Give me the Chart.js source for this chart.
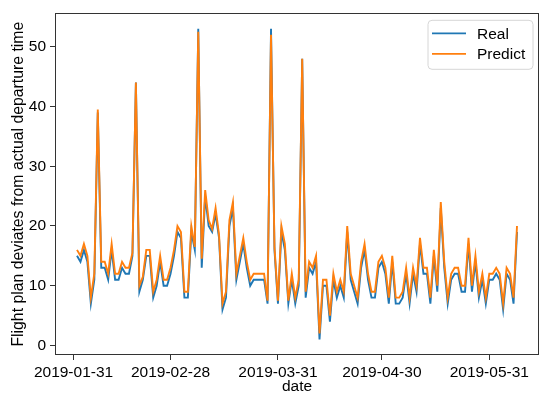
<!DOCTYPE html>
<html><head><meta charset="utf-8">
<script src="https://cdn.jsdelivr.net/npm/chart.js@4/dist/chart.umd.min.js"></script>
<style>html,body{margin:0;padding:0;background:#fff;}#wrap{width:550px;height:399px;position:relative;}canvas{display:block;}</style>
</head><body><div id="wrap"><canvas id="c" width="550" height="399" style="width:550px;height:399px"></canvas></div>
<script>
const dates = [
'2019-02-01','2019-02-02','2019-02-03','2019-02-04','2019-02-05','2019-02-06','2019-02-07','2019-02-08','2019-02-09','2019-02-10',
'2019-02-11','2019-02-12','2019-02-13','2019-02-14','2019-02-15','2019-02-16','2019-02-17','2019-02-18','2019-02-19','2019-02-20',
'2019-02-21','2019-02-22','2019-02-23','2019-02-24','2019-02-25','2019-02-26','2019-02-27','2019-02-28','2019-03-01','2019-03-02',
'2019-03-03','2019-03-04','2019-03-05','2019-03-06','2019-03-07','2019-03-08','2019-03-09','2019-03-10','2019-03-11','2019-03-12',
'2019-03-13','2019-03-14','2019-03-15','2019-03-16','2019-03-17','2019-03-18','2019-03-19','2019-03-20','2019-03-21','2019-03-22',
'2019-03-23','2019-03-24','2019-03-25','2019-03-26','2019-03-27','2019-03-28','2019-03-29','2019-03-30','2019-03-31','2019-04-01',
'2019-04-02','2019-04-03','2019-04-04','2019-04-05','2019-04-06','2019-04-07','2019-04-08','2019-04-09','2019-04-10','2019-04-11',
'2019-04-12','2019-04-13','2019-04-14','2019-04-15','2019-04-16','2019-04-17','2019-04-18','2019-04-19','2019-04-20','2019-04-21',
'2019-04-22','2019-04-23','2019-04-24','2019-04-25','2019-04-26','2019-04-27','2019-04-28','2019-04-29','2019-04-30','2019-05-01',
'2019-05-02','2019-05-03','2019-05-04','2019-05-05','2019-05-06','2019-05-07','2019-05-08','2019-05-09','2019-05-10','2019-05-11',
'2019-05-12','2019-05-13','2019-05-14','2019-05-15','2019-05-16','2019-05-17','2019-05-18','2019-05-19','2019-05-20','2019-05-21',
'2019-05-22','2019-05-23','2019-05-24','2019-05-25','2019-05-26','2019-05-27','2019-05-28','2019-05-29','2019-05-30','2019-05-31',
'2019-06-01','2019-06-02','2019-06-03','2019-06-04','2019-06-05','2019-06-06','2019-06-07','2019-06-08'];

const realValues = [
15,14,16,14,7,11,39,13,13,11,
16,11,11,13,12,12,15,44,9,11,
15,15,8,10,14,10,10,12,15,19,
18,8,8,19,16,53,13,25,20,19,
22,18,6,8,20,23,11,14,17,13,
10,11,11,11,11,7,53,16,7,19,
16,7,11,7,10,48,8,13,12,14,
1,10,10,4,11,8,10,8,19,11,
9,7,13,16,11,8,8,13,14,12,
7,14,7,7,8,12,7,12,9,17,
12,12,7,15,9,23,13,7,11,12,
12,9,9,17,9,14,8,11,7,11,
11,12,11,6,12,11,7,19];

const predictValues = [
16,15,17,15,8,12,39.5,14,14,12,
17,12,12,14,13,13,15.5,44,10,11.5,
16,16,9,11,15,11,11,13,16,20,
19,9,9,20,16.5,52.5,14.5,26,21,19.5,
23,18.5,7,9,21,24,12,15,18,14,
11,12,12,12,12,7.5,52,16.5,7.5,20,
17,7.5,12,8,11,48,9,14,13,15,
2,11,11,5,12,9,11,9,20,12,
10,8,14,17,12,9,9,14,15,13,
8,15,8,8,9,13,8,13,10,18,
13,13,8,16,10,24,14,8,12,13,
13,10,10,18,10,15,9,12,8,12,
12,13,12,7,13,12,8,20];

const seriesNames = ['Real', 'Predict'];
const xTickLabels = ['2019-01-31','2019-02-28','2019-03-31','2019-04-30','2019-05-31'];
const yTickValues = [0,10,20,30,40,50];
const xAxisTitle = 'date';
const yAxisTitle = 'Flight plan deviates from actual departure time';

const FONT = "'Liberation Sans', Arial, Helvetica, sans-serif";
const ref = Date.UTC(2019,0,31);
function dayNum(s){const p=s.split('-').map(Number);return (Date.UTC(p[0],p[1]-1,p[2])-ref)/86400000;}
const xs = dates.map(dayNum);
const xTickValues = xTickLabels.map(dayNum);
const xmin0 = Math.min(...xs), xmax0 = Math.max(...xs);
const xpad = (xmax0 - xmin0) * 0.05;
const allY = realValues.concat(predictValues);
const ymin0 = Math.min(...allY), ymax0 = Math.max(...allY);
const ypad = (ymax0 - ymin0) * 0.05;

const framePlugin = {
  id: 'mplFrame',
  afterDatasetsDraw(chart){
    const {ctx, chartArea:a} = chart;
    ctx.save();
    ctx.strokeStyle = '#333';
    ctx.lineWidth = 1;
    ctx.strokeRect(Math.round(a.left)+0.5, Math.round(a.top)+0.5, Math.round(a.right-a.left)-1, Math.round(a.bottom-a.top)-1);
    // legend
    const x0 = a.right - 111, y0 = a.top + 7, w = 105, h = 49, r = 4;
    ctx.beginPath();
    ctx.moveTo(x0+r,y0);ctx.lineTo(x0+w-r,y0);ctx.quadraticCurveTo(x0+w,y0,x0+w,y0+r);
    ctx.lineTo(x0+w,y0+h-r);ctx.quadraticCurveTo(x0+w,y0+h,x0+w-r,y0+h);
    ctx.lineTo(x0+r,y0+h);ctx.quadraticCurveTo(x0,y0+h,x0,y0+h-r);
    ctx.lineTo(x0,y0+r);ctx.quadraticCurveTo(x0,y0,x0+r,y0);ctx.closePath();
    ctx.fillStyle = 'rgba(255,255,255,0.85)';
    ctx.fill();
    ctx.strokeStyle = '#d6d6d6';
    ctx.stroke();
    chart.data.datasets.forEach((ds,i)=>{
      const y = y0 + 13 + i*20.5;
      ctx.strokeStyle = ds.borderColor;
      ctx.lineWidth = 1.8;
      ctx.beginPath();ctx.moveTo(x0+4,y);ctx.lineTo(x0+38,y);ctx.stroke();
      ctx.fillStyle = '#000';
      ctx.font = '15.5px ' + FONT;
      ctx.textBaseline = 'middle';
      ctx.textAlign = 'left';
      ctx.fillText(ds.label, x0+49, y+1);
    });
    ctx.restore();
  }
};

new Chart(document.getElementById('c'), {
  type: 'line',
  data: {
    datasets: [
      {label: seriesNames[0], order: 1, data: xs.map((x,i)=>({x, y: realValues[i]})), borderColor: '#1f77b4', borderWidth: 1.9, pointRadius: 0, tension: 0, fill: false},
      {label: seriesNames[1], order: 0, data: xs.map((x,i)=>({x, y: predictValues[i]})), borderColor: '#ff7f0e', borderWidth: 1.9, pointRadius: 0, tension: 0, fill: false}
    ]
  },
  options: {
    responsive: false,
    maintainAspectRatio: false,
    animation: false,
    devicePixelRatio: 1,
    layout: {padding: {left: 0, right: 11, top: 13, bottom: 0}},
    plugins: {legend: {display: false}, tooltip: {enabled: false}},
    scales: {
      x: {
        type: 'linear',
        min: xmin0 - xpad, max: xmax0 + xpad,
        afterBuildTicks: (axis) => { axis.ticks = xTickValues.map(v => ({value: v})); },
        afterFit: (axis) => { axis.height = 44; },
        ticks: {autoSkip: false, maxRotation: 0, padding: 3, color: '#000',
          font: {family: FONT, size: 15.5},
          callback: (v) => { const i = xTickValues.indexOf(v); return i >= 0 ? xTickLabels[i] : ''; }},
        grid: {display: true, drawOnChartArea: false, drawTicks: true, tickLength: 5, color: '#333'},
        border: {display: false},
        title: {display: true, text: xAxisTitle, color: '#000', font: {family: FONT, size: 15.5}, padding: {top: 0, bottom: 3}}
      },
      y: {
        type: 'linear',
        min: ymin0 - ypad, max: ymax0 + ypad,
        afterBuildTicks: (axis) => { axis.ticks = yTickValues.map(v => ({value: v})); },
        afterFit: (axis) => { axis.width = 55; },
        ticks: {padding: 4, color: '#000', font: {family: FONT, size: 15.5}},
        grid: {display: true, drawOnChartArea: false, drawTicks: true, tickLength: 5, color: '#333'},
        border: {display: false},
        title: {display: true, text: yAxisTitle, color: '#000', font: {family: FONT, size: 15.8}, padding: {top: 9, bottom: 0}}
      }
    }
  },
  plugins: [framePlugin]
});
</script>
</body></html>
